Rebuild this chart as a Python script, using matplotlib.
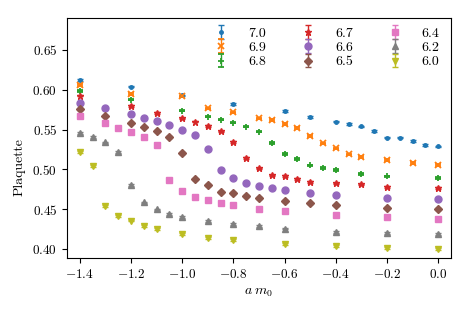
import matplotlib
matplotlib.use("Agg")
import matplotlib.pyplot as plt

plt.rcParams['font.family'] = ['cmr10', 'DejaVu Serif']
plt.rcParams['mathtext.fontset'] = 'cm'
plt.rcParams['axes.formatter.use_mathtext'] = True
plt.rcParams['font.size'] = 10

labels = ["7.0", "6.9", "6.8", "6.7", "6.6", "6.5", "6.4", "6.2", "6.0"]
markers = [".", "x", "+", "*", "o", "D", "s", "^", "v"]
colors = ["#1f77b4", "#ff7f0e", "#2ca02c", "#d62728", "#9467bd",
          "#8c564b", "#e377c2", "#7f7f7f", "#bcbd22"]

x_70 = [-1.4, -1.2, -1.0, -0.8, -0.6, -0.5, -0.4, -0.35, -0.3, -0.25, -0.2, -0.15, -0.1, -0.05, 0.0]
y_70 = [0.612, 0.604, 0.593, 0.582, 0.573, 0.566, 0.560, 0.5567, 0.554, 0.548, 0.540, 0.540, 0.5357, 0.5307, 0.529]

x_69 = [-1.4, -1.2, -1.0, -0.9, -0.8, -0.7, -0.65, -0.6, -0.55, -0.5, -0.45, -0.4, -0.35, -0.3, -0.2, -0.1, 0.0]
y_69 = [0.6056, 0.595, 0.5917, 0.5767, 0.5717, 0.5642, 0.562, 0.557, 0.5524, 0.542, 0.5328, 0.5265, 0.519, 0.516, 0.5118, 0.5085, 0.5055]

x_68 = [-1.4, -1.2, -1.0, -0.9, -0.85, -0.8, -0.75, -0.7, -0.65, -0.6, -0.55, -0.5, -0.45, -0.4, -0.3, -0.2, 0.0]
y_68 = [0.5985, 0.5876, 0.5738, 0.5663, 0.5625, 0.5587, 0.5537, 0.5474, 0.5332, 0.5198, 0.5129, 0.5051, 0.5021, 0.4996, 0.4946, 0.4913, 0.4896]

x_67 = [-1.4, -1.2, -1.1, -1.0, -0.95, -0.9, -0.85, -0.8, -0.75, -0.7, -0.65, -0.6, -0.55, -0.5, -0.4, -0.3, -0.2, 0.0]
y_67 = [0.5926, 0.5796, 0.5712, 0.5642, 0.5600, 0.5549, 0.5479, 0.5344, 0.5147, 0.5014, 0.4926, 0.4921, 0.488, 0.4842, 0.4825, 0.4813, 0.478, 0.4766]

x_66 = [-1.4, -1.3, -1.2, -1.15, -1.1, -1.05, -1.0, -0.95, -0.9, -0.85, -0.8, -0.75, -0.7, -0.65, -0.6, -0.5, -0.4, -0.2, 0.0]
y_66 = [0.5834, 0.5767, 0.5692, 0.5642, 0.5608, 0.5562, 0.5499, 0.5436, 0.5253, 0.4998, 0.4888, 0.4825, 0.4788, 0.4762, 0.4743, 0.4707, 0.4675, 0.4637, 0.4624]

x_65 = [-1.4, -1.3, -1.2, -1.15, -1.1, -1.05, -1.0, -0.95, -0.9, -0.85, -0.8, -0.75, -0.7, -0.6, -0.5, -0.4, -0.2, 0.0]
y_65 = [0.5755, 0.5675, 0.5587, 0.5537, 0.5486, 0.5407, 0.5206, 0.4876, 0.4804, 0.472, 0.4704, 0.4666, 0.4645, 0.4603, 0.4574, 0.4549, 0.4519, 0.4503]

x_64 = [-1.4, -1.3, -1.25, -1.2, -1.15, -1.1, -1.05, -1.0, -0.95, -0.9, -0.85, -0.8, -0.7, -0.6, -0.4, -0.2, 0.0]
y_64 = [0.5671, 0.5579, 0.5524, 0.5466, 0.5403, 0.5311, 0.4871, 0.4725, 0.4657, 0.4612, 0.4582, 0.4553, 0.4506, 0.4474, 0.4427, 0.4406, 0.4381]

x_62 = [-1.4, -1.35, -1.3, -1.25, -1.2, -1.15, -1.1, -1.05, -1.0, -0.9, -0.8, -0.7, -0.6, -0.4, -0.2, 0.0]
y_62 = [0.5461, 0.5411, 0.534, 0.5222, 0.4808, 0.4587, 0.4499, 0.4444, 0.4402, 0.4352, 0.4314, 0.4289, 0.426, 0.4214, 0.4201, 0.4193]

x_60 = [-1.4, -1.35, -1.3, -1.25, -1.2, -1.15, -1.1, -1.0, -0.9, -0.8, -0.6, -0.4, -0.2, 0.0]
y_60 = [0.5219, 0.5047, 0.454, 0.4415, 0.436, 0.4293, 0.4255, 0.4188, 0.4142, 0.4113, 0.4067, 0.4038, 0.4017, 0.4004]

errs = [0.001, 0.001, 0.001, 0.001, 0.001, 0.001, 0.001, 0.001, 0.001]

xs = [x_70, x_69, x_68, x_67, x_66, x_65, x_64, x_62, x_60]
ys = [y_70, y_69, y_68, y_67, y_66, y_65, y_64, y_62, y_60]

fig = plt.figure(figsize=(4.7, 3.13), dpi=100)
ax = fig.add_axes([0.1426, 0.1757, 0.8170, 0.7668])

sizes = {".": 5, "x": 4, "+": 4.5, "*": 4.5, "o": 5, "D": 4.5, "s": 5, "^": 5, "v": 5}
for x, y, e, lab, m, c in zip(xs, ys, errs, labels, markers, colors):
    ax.errorbar(x, y, yerr=e, fmt=m, color=c, ms=sizes[m], capsize=2,
                elinewidth=1, mew=1.3 if m in ("x", "+") else 1, label=lab)

ax.set_xlim(-1.45, 0.05)
ax.set_ylim(0.389, 0.69)
ax.set_xticks([-1.4, -1.2, -1.0, -0.8, -0.6, -0.4, -0.2, 0.0])
ax.set_yticks([0.40, 0.45, 0.50, 0.55, 0.60, 0.65])
ax.xaxis.set_major_formatter(matplotlib.ticker.FuncFormatter(
    lambda v, p: "$" + ("-" if v < -1e-9 else "") + f"{abs(v):.1f}" + "$"))
ax.yaxis.set_major_formatter(matplotlib.ticker.FuncFormatter(
    lambda v, p: f"${v:.2f}$"))
ax.tick_params(labelsize=9.5)
ax.set_xlabel(r"$a\;m_0$", fontsize=10)
ax.set_ylabel("Plaquette", fontsize=10)
ax.yaxis.set_label_coords(-0.109, 0.38)
ax.legend(ncol=3, loc="upper right", bbox_to_anchor=(0.985, 0.986),
          borderaxespad=0.0, frameon=False, fontsize=10,
          columnspacing=2.0, handletextpad=0.95, labelspacing=0.12)

fig.savefig("out.png", dpi=100)
